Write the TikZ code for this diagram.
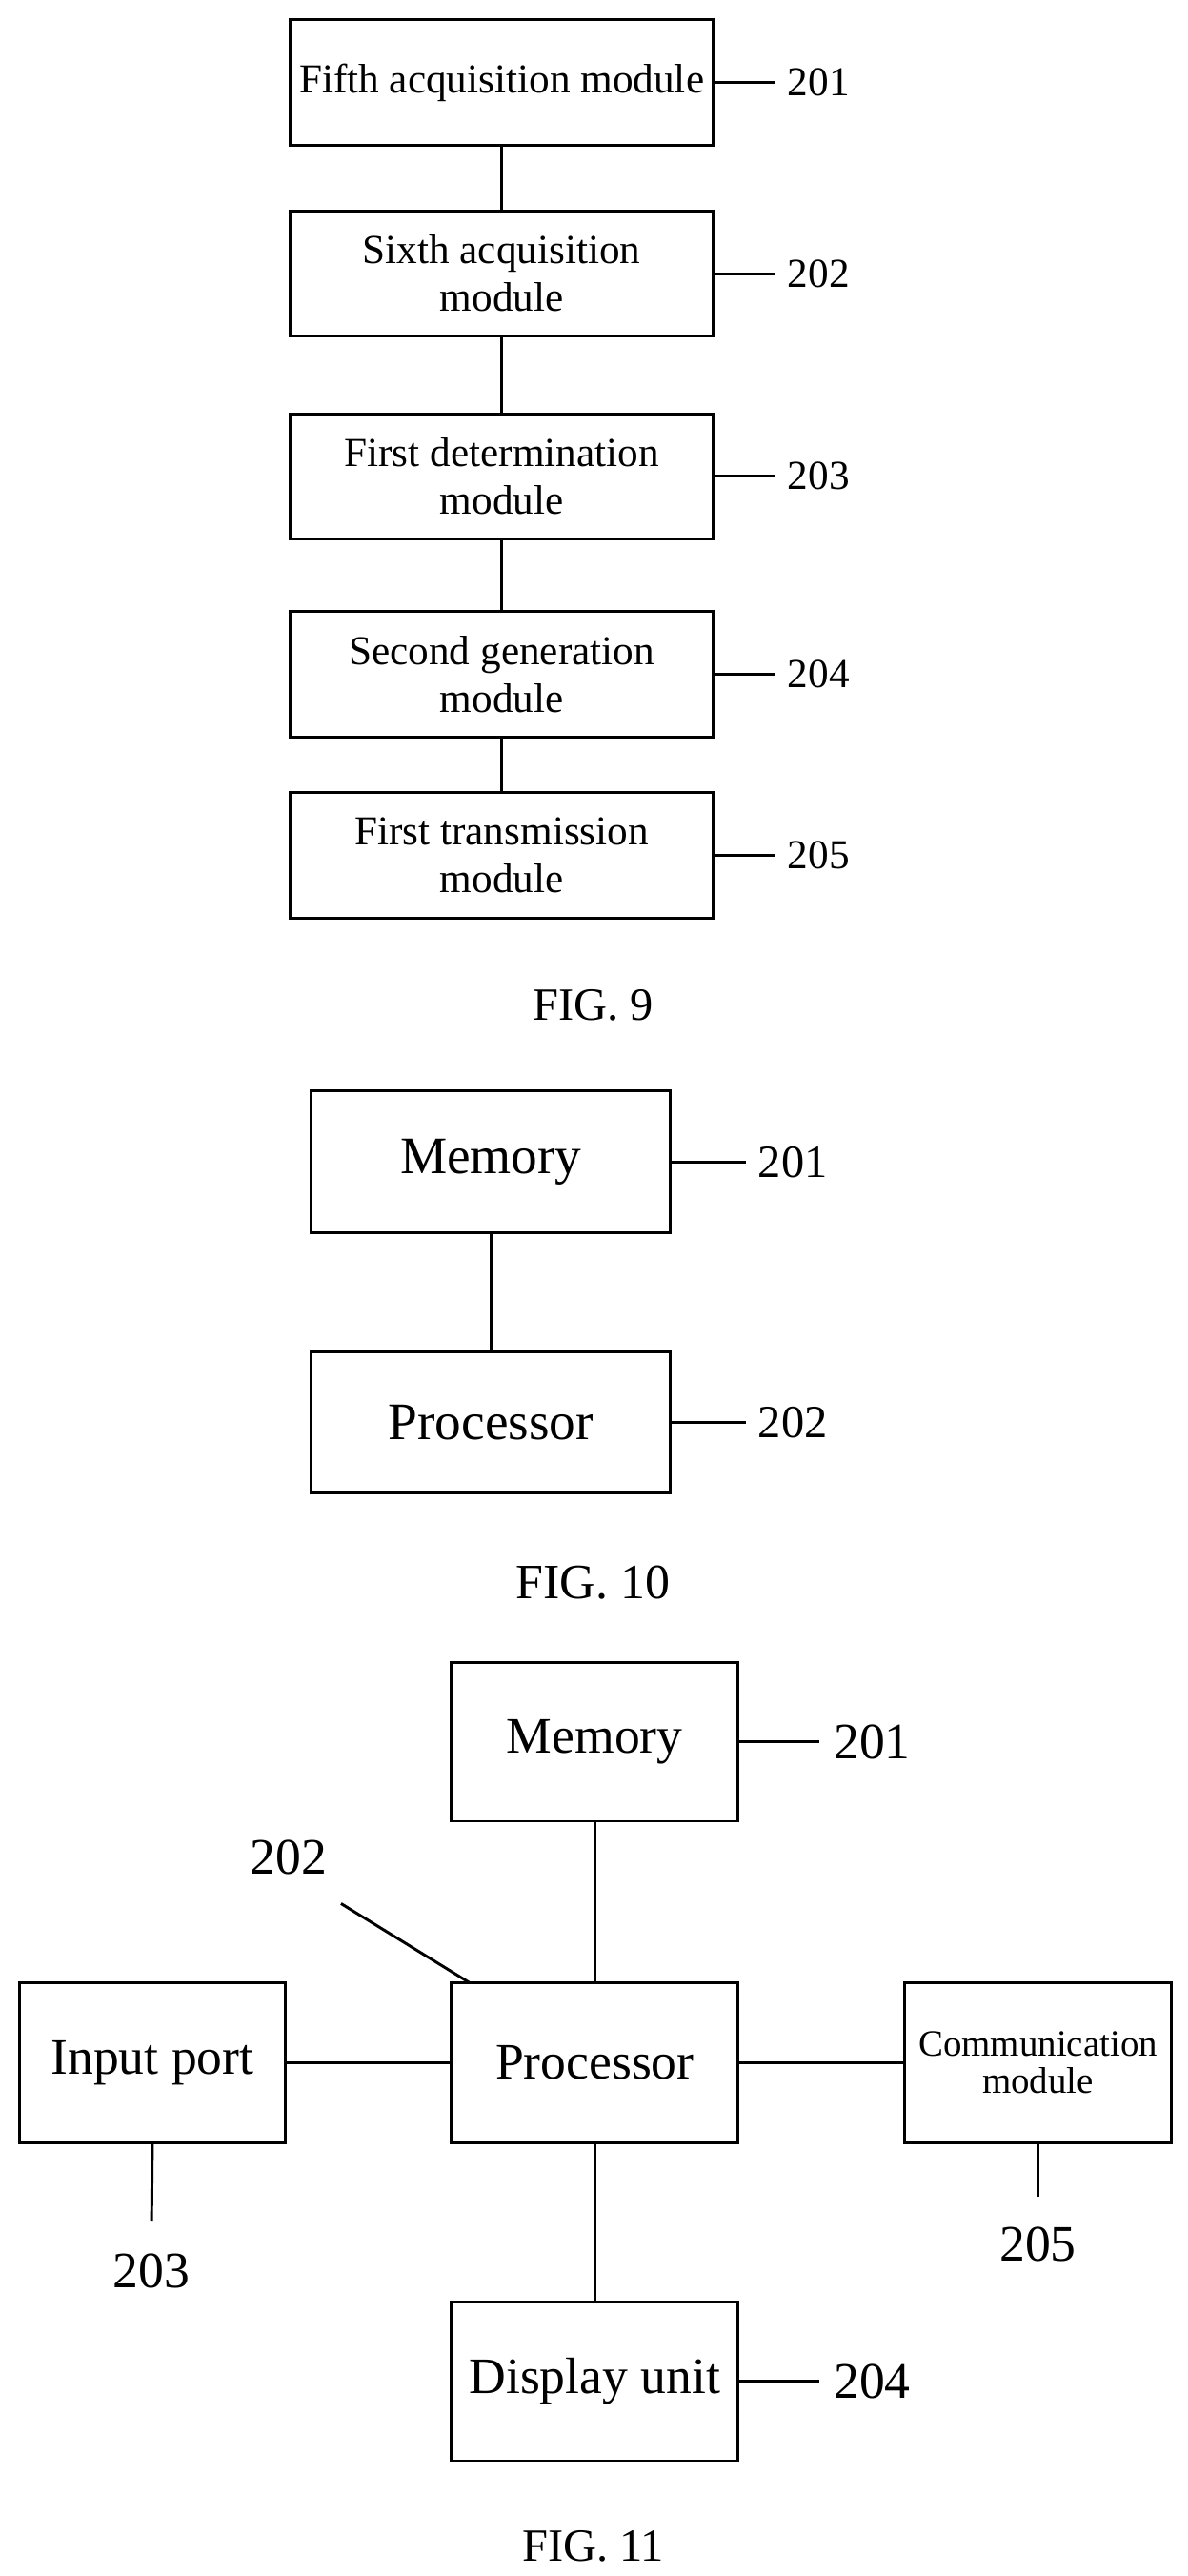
\documentclass[tikz,border=0pt]{standalone}
\usepackage{fontspec}
\setmainfont{Liberation Serif}
\begin{document}
\begin{tikzpicture}[x=1pt,y=-1pt,line width=1.7pt,
  bx/.style={draw,minimum width=#1,inner sep=0pt,align=center},
  fa/.style={font=\fontsize{25}{29}\selectfont},
  fb/.style={font=\fontsize{32}{36}\selectfont},
  fc/.style={font=\fontsize{31}{35}\selectfont}]
\useasboundingbox (0,0) rectangle (721,1563);
% FIG 9
\foreach \n/\t/\a/\b/\l in {a1/{Fifth acquisition module}/12/88/201,a2/{Sixth acquisition\\module}/128/204/202,a3/{First determination\\module}/251/327/203,a4/{Second generation\\module}/371/447/204,a5/{First transmission\\module}/481/557/205}{
  \node[bx=257pt,minimum height=76pt,fa] (\n) at (304.5,{(\a+\b)/2}) {\t};
  \coordinate (\n e) at (470,{(\a+\b)/2});
  \draw (\n.east) -- (\n e);
  \node[fa,anchor=west] (\n l) at (474,{(\a+\b)/2}) {\l};
}
\draw (a1) -- (a2); \draw (a2) -- (a3); \draw (a3) -- (a4); \draw (a4) -- (a5);
\node[font=\fontsize{28}{32}\selectfont] (f9) at (360,610) {FIG. 9};
% FIG 10
\node[bx=218pt,minimum height=86pt,fb] (m) at (298,705) {Memory};
\node[bx=218pt,minimum height=86pt,fb] (p) at (298,863) {Processor};
\draw (m) -- (p);
\coordinate (me) at (453,705); \coordinate (pe) at (453,863);
\draw (m.east) -- (me); \draw (p.east) -- (pe);
\node[font=\fontsize{28}{32}\selectfont,anchor=west] (ml) at (456,705) {201};
\node[font=\fontsize{28}{32}\selectfont,anchor=west] (pl) at (456,863) {202};
\node[font=\fontsize{30}{34}\selectfont] (f10) at (360,960) {FIG. 10};
% FIG 11
\node[bx=174pt,minimum height=96pt,fc] (M) at (361,1057) {Memory};
\node[bx=174pt,minimum height=97pt,fc] (P) at (361,1251.5) {Processor};
\node[bx=161pt,minimum height=97pt,fc] (I) at (92.5,1251.5) {Input port};
\node[bx=162pt,minimum height=97pt,font=\fontsize{22.5}{22}\selectfont] (C) at (630,1251.5) {Communication\\module};
\node[bx=174pt,minimum height=96pt,fc] (D) at (361,1445) {Display unit};
\draw (M) -- (P); \draw (I) -- (P); \draw (P) -- (C); \draw (P) -- (D);
\coordinate (Me) at (497,1057); \draw (M.east) -- (Me);
\node[fc,anchor=west] (Ml) at (502,1057) {201};
\coordinate (De) at (497,1445); \draw (D.east) -- (De);
\node[fc,anchor=west] (Dl) at (502,1445) {204};
\coordinate (Pc) at (285,1203); \coordinate (Ps) at (207,1155); \draw (Ps) -- (Pc);
\node[fc] (Pl) at (175,1127) {202};
\coordinate (Ie) at (92,1348); \draw (I.south) -- (Ie);
\node[fc] (Il) at (92,1378) {203};
\coordinate (Ce) at (630,1333); \draw (C.south) -- (Ce);
\node[fc] (Cl) at (630,1362) {205};
\node[font=\fontsize{28}{32}\selectfont] (f11) at (360,1545) {FIG. 11};
\end{tikzpicture}
\end{document}
